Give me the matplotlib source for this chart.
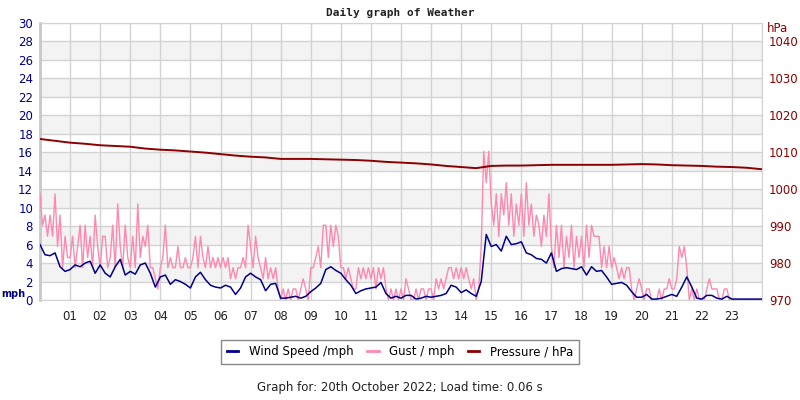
import numpy as np
import matplotlib
matplotlib.use("Agg")
import matplotlib.pyplot as plt
from matplotlib.lines import Line2D

# wind speed, 10-minute samples, 00:00 .. 24:00 (mph)
WIND = [6.0, 4.9, 4.8, 5.1, 3.6, 3.1, 3.3, 3.8, 3.6, 4.0, 4.2, 2.9,
        3.8, 2.9, 2.5, 3.6, 4.4, 2.7, 3.1, 2.8, 3.8, 4.0, 2.9, 1.4,
        2.5, 2.7, 1.7, 2.2, 2.0, 1.7, 1.3, 2.5, 3.0, 2.2, 1.6, 1.4,
        1.3, 1.6, 1.4, 0.6, 1.3, 2.5, 2.9, 2.5, 2.2, 1.0, 1.7, 1.8,
        0.2, 0.2, 0.3, 0.4, 0.2, 0.4, 0.9, 1.3, 1.8, 3.3, 3.6, 3.2,
        2.9, 2.2, 1.6, 0.7, 1.0, 1.2, 1.3, 1.4, 1.9, 0.7, 0.2, 0.4,
        0.2, 0.5, 0.5, 0.1, 0.2, 0.4, 0.3, 0.4, 0.5, 0.7, 1.6, 1.4,
        0.8, 1.1, 0.7, 0.4, 2.0, 7.1, 5.8, 6.0, 5.3, 6.9, 6.0, 6.1,
        6.3, 5.1, 4.9, 4.5, 4.4, 4.0, 5.1, 3.1, 3.4, 3.5, 3.4, 3.3,
        3.6, 2.7, 3.6, 3.1, 3.2, 2.5, 1.7, 1.8, 1.9, 1.6, 0.9, 0.3,
        0.3, 0.6, 0.1, 0.1, 0.2, 0.4, 0.6, 0.4, 1.4, 2.5, 1.4, 0.2,
        0.1, 0.5, 0.5, 0.2, 0.1, 0.4, 0.1, 0.1, 0.1, 0.1, 0.1, 0.1,
        0.1]
# gust, 5-minute samples, one row per hour (mph)
GUST = [11.5, 8.1, 9.2, 6.9, 9.2, 6.9, 11.5, 5.8, 9.2, 3.5, 6.9, 4.6,
        4.6, 6.9, 3.5, 5.8, 8.1, 3.5, 8.1, 4.6, 6.9, 3.5, 9.2, 5.8,
        3.5, 6.9, 6.9, 3.5, 4.6, 8.1, 3.5, 10.4, 5.8, 3.5, 8.1, 4.6,
        3.5, 6.9, 3.5, 10.4, 4.6, 6.9, 5.8, 8.1, 3.5, 3.5, 2.3, 1.2,
        3.5, 4.6, 8.1, 3.5, 4.6, 3.5, 3.5, 5.8, 3.5, 3.5, 4.6, 3.5,
        3.5, 4.6, 6.9, 3.5, 6.9, 4.6, 3.5, 5.8, 3.5, 4.6, 3.5, 4.6,
        3.5, 4.6, 3.5, 4.6, 2.3, 3.5, 2.3, 3.5, 3.5, 4.6, 3.5, 8.1,
        5.8, 3.5, 6.9, 4.6, 3.5, 2.3, 4.6, 2.3, 3.5, 2.3, 3.5, 1.2,
        0.0, 1.2, 0.0, 1.2, 0.0, 1.2, 1.2, 0.0, 1.2, 2.3, 1.2, 0.0,
        3.5, 3.5, 4.6, 5.8, 3.5, 8.1, 8.1, 4.6, 8.1, 5.8, 8.1, 6.9,
        3.5, 3.5, 2.3, 3.5, 2.3, 1.2, 1.2, 3.5, 2.3, 3.5, 2.3, 3.5,
        2.3, 3.5, 1.2, 3.5, 2.3, 3.5, 1.2, 0.0, 1.2, 0.0, 1.2, 0.0,
        1.2, 0.0, 2.3, 1.2, 0.0, 0.0, 1.2, 0.0, 1.2, 1.2, 0.0, 1.2,
        1.2, 0.0, 2.3, 1.2, 2.3, 1.2, 2.3, 3.5, 3.5, 2.3, 3.5, 2.3,
        3.5, 2.3, 3.5, 2.3, 1.2, 2.3, 0.0, 1.2, 5.8, 16.1, 12.7, 16.1,
        10.4, 8.1, 11.5, 6.9, 11.5, 9.2, 12.7, 8.1, 11.5, 6.9, 10.4, 8.1,
        11.5, 6.9, 12.7, 8.1, 10.4, 6.9, 9.2, 8.1, 5.8, 9.2, 6.9, 11.5,
        5.8, 3.5, 8.1, 4.6, 8.1, 3.5, 6.9, 4.6, 8.1, 3.5, 6.9, 4.6,
        6.9, 3.5, 8.1, 4.6, 8.1, 6.9, 6.9, 6.9, 3.5, 5.8, 3.5, 5.8,
        3.5, 4.6, 3.5, 2.3, 3.5, 2.3, 3.5, 3.5, 1.2, 0.0, 1.2, 2.3,
        1.2, 0.0, 1.2, 1.2, 0.0, 0.0, 0.0, 1.2, 0.0, 1.2, 1.2, 2.3,
        1.2, 1.2, 2.3, 5.8, 4.6, 5.8, 3.5, 0.0, 1.2, 0.0, 1.2, 0.0,
        0.0, 0.0, 1.2, 2.3, 1.2, 1.2, 1.2, 0.0, 0.0, 1.2, 1.2, 0.0,
        0.0, 0.0, 0.0, 0.0, 0.0, 0.0, 0.0, 0.0, 0.0, 0.0, 0.0, 0.0,
        0.0]
# pressure, 30-minute samples (hPa)
PRESSURE = [1013.6, 1013.1, 1012.6, 1012.3, 1011.9, 1011.7, 1011.5, 1011.0,
            1010.7, 1010.5, 1010.2, 1009.9, 1009.5, 1009.1, 1008.8, 1008.6,
            1008.2, 1008.2, 1008.2, 1008.1, 1008.0, 1007.9, 1007.7, 1007.4,
            1007.2, 1007.0, 1006.7, 1006.3, 1006.0, 1005.7, 1006.3, 1006.4,
            1006.4, 1006.5, 1006.6, 1006.6, 1006.6, 1006.6, 1006.6, 1006.7,
            1006.8, 1006.7, 1006.5, 1006.4, 1006.3, 1006.1, 1006.0, 1005.8,
            1005.4]
HOUR_LABELS = [f"{h:02d}" for h in range(1, 24)]

WIND_C = "#000088"
GUST_C = "#ff88b0"
PRES_C = "#8b0000"
GRID_C = "#d3d3d3"
BAND_C = "#f3f3f3"

t_wind = np.arange(len(WIND)) / 6.0
t_gust = np.arange(len(GUST)) / 12.0
t_pres = np.arange(len(PRESSURE)) / 2.0

fig = plt.figure(figsize=(8, 4), dpi=100)
ax = fig.add_axes([40 / 800, 0.25, 722 / 800, 277 / 400])
ax.set_xlim(0, 24)
ax.set_ylim(0, 30)

for y0 in range(2, 30, 4):
    ax.axhspan(y0, y0 + 2, color=BAND_C, lw=0, zorder=0)
for y in range(0, 31, 2):
    ax.axhline(y, color=GRID_C, lw=1, zorder=1)
for h in range(0, 25):
    ax.axvline(h, color=GRID_C, lw=1, zorder=1)

ax.plot(t_gust, GUST, color=GUST_C, lw=1, zorder=3)
ax.plot(t_wind, WIND, color=WIND_C, lw=1.1, zorder=4)

ax.set_xticks(range(1, 24))
ax.set_xticklabels(HOUR_LABELS, fontsize=8.5, color="#222222")
ax.set_yticks(range(0, 31, 2))
ax.tick_params(axis="y", colors=WIND_C, labelsize=8.5, length=0, pad=5)
ax.tick_params(axis="x", length=0, pad=7)
for s in ("top", "right", "bottom"):
    ax.spines[s].set_color(GRID_C)
ax.spines["left"].set_color("#c8c8c8")
ax.spines["left"].set_linewidth(2)

ax2 = ax.twinx()
ax2.set_ylim(970, 1045)
ax2.plot(t_pres, PRESSURE, color=PRES_C, lw=1.4, zorder=5)
ax2.set_yticks(range(970, 1041, 10))
ax2.tick_params(axis="y", colors=PRES_C, labelsize=8.5, length=0, pad=5)
for s in ax2.spines.values():
    s.set_visible(False)

fig.text(0.5, 1 - 13 / 400, "Daily graph of Weather", ha="center", va="center",
         fontsize=8, fontweight="bold", family="DejaVu Sans Mono", color="#222222")
fig.text(1 / 800, 1 - 294 / 400, "mph", ha="left", va="center",
         fontsize=7, fontweight="bold", color=WIND_C)
fig.text(778 / 800, 1 - 29 / 400, "hPa", ha="center", va="center",
         fontsize=8.5, color=PRES_C)

handles = [Line2D([], [], color=WIND_C, lw=2),
           Line2D([], [], color=GUST_C, lw=2),
           Line2D([], [], color=PRES_C, lw=2)]
leg = fig.legend(handles, ["Wind Speed /mph", "Gust / mph", "Pressure / hPa"],
                 loc="center", bbox_to_anchor=(0.5, 1 - 352 / 400), ncol=3,
                 fontsize=8.5, handlelength=1.0, handletextpad=0.9,
                 columnspacing=1.1, fancybox=False, edgecolor="#888888",
                 borderpad=0.45, framealpha=1)
leg.get_frame().set_linewidth(1)

fig.text(0.5, 1 - 388 / 400, "Graph for: 20th October 2022; Load time: 0.06 s",
         ha="center", va="center", fontsize=8.5, color="#222222")

fig.savefig("out.png", dpi=100)
